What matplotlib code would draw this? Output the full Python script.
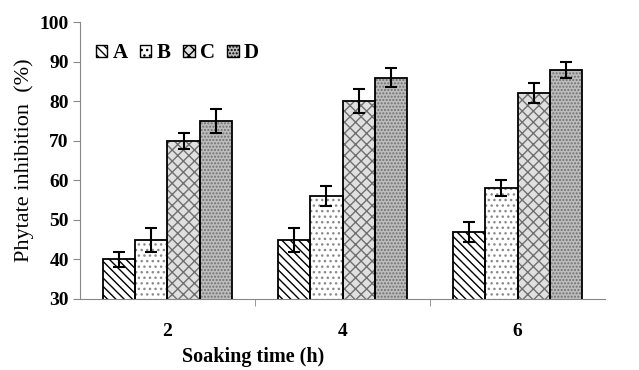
import matplotlib
matplotlib.use("Agg")
import matplotlib.pyplot as plt
import numpy as np
from matplotlib.patches import Patch

plt.rcParams['font.family'] = ['Liberation Serif', 'DejaVu Serif']
plt.rcParams['hatch.linewidth'] = 1.0

categories = ['2', '4', '6']
series = ['A', 'B', 'C', 'D']
values = {
    'A': [40, 45, 47],
    'B': [45, 56, 58],
    'C': [70, 80, 82],
    'D': [75, 86, 88],
}
errors = {
    'A': [2, 3, 2.5],
    'B': [3, 2.5, 2],
    'C': [2, 3, 2.5],
    'D': [3, 2.5, 2],
}
yticks = [30, 40, 50, 60, 70, 80, 90, 100]

styles = {
    'A': dict(facecolor='white', hatch='\\\\\\\\', hcolor='black'),
    'B': dict(facecolor='white', hatch='...', hcolor='#8a8a8a'),
    'C': dict(facecolor='#e0e0e0', hatch='xxx', hcolor='#707070'),
    'D': dict(facecolor='#bdbdbd', hatch='.....', hcolor='#707070'),
}

fig = plt.figure(figsize=(6.39, 3.70), dpi=100)
ax = fig.add_axes([0.125, 0.192, 0.822, 0.748])

x = np.arange(len(categories))
w = 0.185
for i, s in enumerate(series):
    st = styles[s]
    pos = x + (i - 1.5) * w
    ax.bar(pos, values[s], w, facecolor=st['facecolor'],
           edgecolor=st['hcolor'], hatch=st['hatch'], linewidth=0, label=s, zorder=2)
    ax.bar(pos, values[s], w, facecolor='none', edgecolor='black', linewidth=1.3, zorder=3)
    ax.errorbar(pos, values[s], yerr=errors[s], fmt='none', ecolor='black',
                elinewidth=1.5, capsize=4, capthick=1.5, zorder=4)

ax.set_xlim(-0.5, 2.5)
ax.set_ylim(30, 100)
ax.set_yticks(yticks)
ax.set_xticks(x)
ax.set_xticklabels(categories)
ax.set_xticks([0.5, 1.5], minor=True)
ax.tick_params(axis='x', which='major', length=0, pad=17)
ax.tick_params(axis='x', which='minor', length=5, color='#888888', direction='out')
ax.tick_params(axis='y', length=5, color='#888888', direction='out', pad=3)
for lab in ax.get_xticklabels() + ax.get_yticklabels():
    lab.set_fontweight('bold')
    lab.set_fontsize(14)

for sp in ['top', 'right']:
    ax.spines[sp].set_visible(False)
ax.spines['left'].set_color('#888888')
ax.spines['bottom'].set_color('#888888')

ax.set_ylabel('Phytate inhibition  (%)', fontsize=16, labelpad=4)
ax.set_xlabel('Soaking time (h)', fontsize=14.5, fontweight='bold')
ax.xaxis.set_label_coords(0.33, -0.21)
ax.xaxis.label.set_va('center')

handles = [Patch(facecolor=styles[s]['facecolor'], edgecolor='black', hatch=styles[s]['hatch'], linewidth=1) for s in series]
leg = ax.legend(handles, series, ncol=4, loc='center left', bbox_to_anchor=(0.03, 0.888),
                frameon=False, handlelength=0.55, handleheight=0.55, handletextpad=0.25,
                columnspacing=0.6, borderpad=0, borderaxespad=0,
                prop={'weight': 'bold', 'size': 15})

fig.savefig('out.png', dpi=100)
